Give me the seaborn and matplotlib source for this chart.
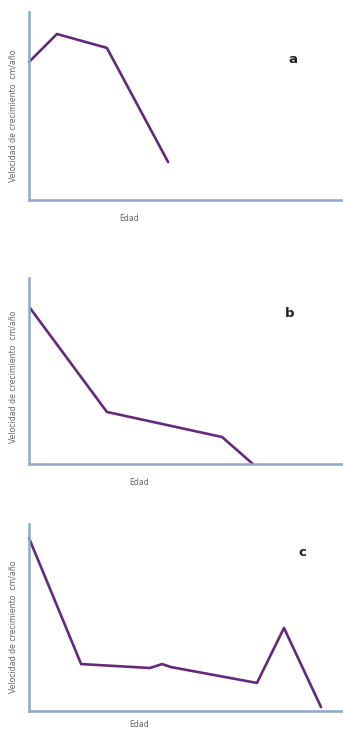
import matplotlib
matplotlib.use("Agg")
import matplotlib.pyplot as plt
import seaborn as sns
import pandas as pd

# Data (arbitrary units)
edad_a = [0.0, 0.89, 2.48, 4.43]
vel_a = [7.34, 8.83, 8.09, 2.02]

edad_b = [0.03, 2.48, 6.15, 7.13]
vel_b = [8.39, 2.80, 1.45, 0.0]

edad_c = [0.0, 1.66, 3.85, 4.24, 4.52, 7.26, 8.12, 9.30]
vel_c = [9.25, 2.51, 2.30, 2.51, 2.35, 1.50, 4.44, 0.21]

panel_letters = ["a", "b", "c"]
ylabel_text = "Velocidad de crecimiento  cm/año"
xlabel_text = "Edad"

sns.set_style("white")
plt.rcParams['font.family'] = ['DejaVu Sans']

W, H = 343, 729
fig = plt.figure(figsize=(W / 100, H / 100), dpi=100)

# (top px, bottom px)
boxes = [(12, 200), (278, 464), (524, 711)]
letter_pos = [(0.84, 0.745), (0.83, 0.81), (0.87, 0.845)]
ylab_y = [0.45, 0.47, 0.45]
xlab_x = [0.32, 0.35, 0.35]
xlab_off = [14, 14, 9]
datasets = [(edad_a, vel_a), (edad_b, vel_b), (edad_c, vel_c)]

axis_color = "#8ea8cc"
line_color = "#64297a"

for i, ((top, bot), (xs, ys)) in enumerate(zip(boxes, datasets)):
    left = 29
    ax = fig.add_axes([left / W, 1 - bot / H, (W - left) / W, (bot - top) / H])
    df = pd.DataFrame({"Edad": xs, "Vel": ys})
    sns.lineplot(data=df, x="Edad", y="Vel", sort=False, ax=ax,
                 color=line_color, linewidth=1.9)
    for l in ax.lines:
        l.set_clip_on(False)
    ax.set_xlim(0, 10)
    ax.set_ylim(0, 10)
    ax.set_xticks([])
    ax.set_yticks([])
    for s in ["top", "right"]:
        ax.spines[s].set_visible(False)
    for s in ["left", "bottom"]:
        ax.spines[s].set_color(axis_color)
        ax.spines[s].set_linewidth(1.8)
    ax.set_ylabel(ylabel_text, fontsize=5.6, color="#666666")
    ax.yaxis.set_label_coords(-11 / (W - left), ylab_y[i])
    ax.set_xlabel(xlabel_text, fontsize=5.6, color="#666666")
    ax.xaxis.set_label_coords(xlab_x[i], -xlab_off[i] / (bot - top))
    ax.text(letter_pos[i][0], letter_pos[i][1], panel_letters[i],
            transform=ax.transAxes, fontsize=9.5, fontweight="bold",
            color="#222222", ha="center", va="center")

fig.savefig("out.png", dpi=100)
